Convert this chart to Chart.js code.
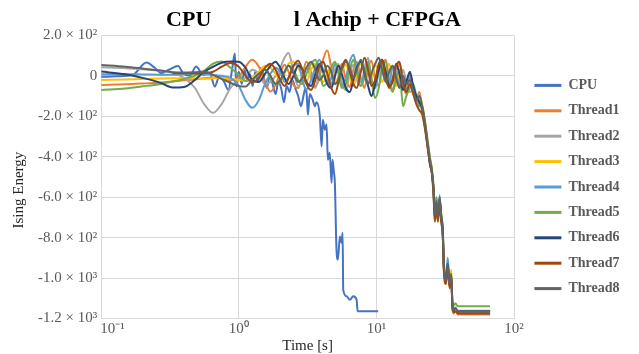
<!DOCTYPE html>
<html>
<head>
<meta charset="utf-8">
<script src="https://cdn.jsdelivr.net/npm/chart.js@4.4.1/dist/chart.umd.min.js"></script>
<style>
  html, body { margin: 0; padding: 0; background: #fff; }
  #wrap { width: 639px; height: 354px; }
</style>
</head>
<body>
<div id="wrap"><canvas id="chart" width="639" height="354"></canvas></div>
<script>
const SERIES_NAMES = ['CPU', 'Thread1', 'Thread2', 'Thread3', 'Thread4', 'Thread5', 'Thread6', 'Thread7', 'Thread8'];
const SERIES_COLORS = ['#4472C4', '#ED7D31', '#A5A5A5', '#FFC000', '#5B9BD5', '#70AD47', '#264478', '#9E480E', '#636363'];

const xTickValues = [0.1, 1, 10, 100];
const xTickLabels = ['10⁻¹', '10⁰', '10¹', '10²'];
const yTickValues = [200, 0, -200, -400, -600, -800, -1000, -1200];
const yTickLabels = ['2.0 × 10²', '0', '-2.0 × 10²', '-4.0 × 10²', '-6.0 × 10²', '-8.0 × 10²', '-1.0 × 10³', '-1.2 × 10³'];

// CPU run (seconds, energy)
const cpuTime = [0.1, 0.13, 0.17, 0.213, 0.245, 0.274, 0.31, 0.362, 0.394, 0.44, 0.49, 0.55, 0.615, 0.67, 0.72, 0.78, 0.84, 0.9, 0.935, 0.96,
  1.0, 1.05, 1.1, 1.15, 1.2, 1.26, 1.32, 1.38, 1.45, 1.52, 1.6, 1.68, 1.76, 1.85, 1.94, 2.03, 2.13, 2.23, 2.34, 2.45,
  2.57, 2.7, 2.83, 2.97, 3.05, 3.11, 3.18, 3.28, 3.45, 3.57, 3.67, 3.88, 4.0, 4.08, 4.22, 4.34, 4.44, 4.58, 4.72, 4.8,
  4.9, 4.99, 5.13, 5.25, 5.43, 5.58, 5.68, 5.74, 6.07, 6.42, 6.78, 7.18, 7.3, 10.3];
const cpuEnergy = [-5, -2, 5, 66, 40, 13, 30, 49, 13, 0, 46, 5, 13, -53, -3, -28, -69, 46, 110, -53,
  20, -40, 30, -20, 10, -50, 20, -30, 40, -10, -60, 0, -40, -90, -30, -60, -130, -50, -80, -20,
  -60, -100, -150, -90, -60, -86, -193, -90, -120, -150, -130, -200, -349, -217, -267, -240, -415, -380, -529, -415,
  -470, -529, -860, -909, -794, -825, -776, -1057, -1090, -1107, -1090, -1107, -1164, -1164];

// FPGA threads share one time base
const threadTime = [0.1, 0.15, 0.2, 0.27, 0.33, 0.4, 0.48, 0.56, 0.65, 0.75, 0.87, 1.0,
  1.12, 1.25, 1.4, 1.55, 1.7, 1.85, 2.0, 2.15, 2.3, 2.5, 2.7, 2.9, 3.1, 3.35, 3.6, 3.85, 4.1, 4.4, 4.7, 5.0,
  5.3, 5.6, 6.0, 6.4, 6.8, 7.2, 7.7, 8.2, 8.7, 9.2, 9.8, 10.4, 11, 11.7, 12.4, 13.1, 13.9, 14.7, 15.6, 16.5,
  17.5, 18.5, 19.5, 20.5, 21.5, 22.5, 23.5, 24.5, 25.3, 26, 26.6, 27.3, 28, 28.8, 29.6, 30.3, 31, 32,
  33, 34, 35, 35.7, 36.5, 37.5, 39, 42, 48, 55, 67];

const thread1 = [-45, -42, -38, -33, -28, -22, -18, -12, -8, -12, -22, -5,
  45, 80, 45, -30, -78, -45, 15, 55, 20, -45, -60, 5, 70, 20, -50, -10, 80, 125, 40, -40,
  -5, 60, -20, -55, 30, 70, -10, -60, 40, 75, -20, -50, 45, 80, -30, -70, 20, 60, -40, -90,
  10, -60, -120, -80, -150, -230, -330, -420, -470, -560, -690, -620, -720, -600, -700, -760, -950, -1020,
  -930, -1040, -980, -1140, -1175, -1150, -1180, -1180, -1180, -1180, -1180];
const thread2 = [42, 38, 32, 25, 15, -10, -60, -140, -183, -140, -60, -20,
  -10, 30, 10, -40, -30, 0, 40, 90, 113, 20, -50, -20, 40, -10, -60, 20, 70, 10, -40, 30,
  60, -30, -70, 10, 55, -20, -50, 40, 90, -10, -60, 30, 70, -20, -50, 40, 20, -40, 30, -30,
  -80, -70, -130, -90, -170, -250, -340, -430, -480, -590, -720, -650, -700, -640, -730, -780, -970, -1000,
  -950, -1020, -990, -1150, -1160, -1155, -1168, -1168, -1168, -1168, -1168];
const thread3 = [-20, -18, -15, -13, -12, -12, -13, -14, -12, -10, -15, -20,
  -25, -10, 20, 50, 40, 10, -20, 10, 60, 70, 40, 0, -30, 30, 60, 20, -30, 10, 50, -10,
  -40, 20, 55, 0, -50, 10, 60, 20, -40, -10, 50, 30, -30, 20, 60, -20, -50, 10, -20, -60,
  -30, -90, -110, -120, -140, -220, -310, -400, -460, -550, -680, -610, -690, -610, -690, -750, -960, -1000,
  -920, -1030, -960, -1150, -1175, -1160, -1172, -1172, -1172, -1172, -1172];
const thread4 = [8, 8, 7, 6, 6, 8, 10, 8, 5, 0, -10, -50,
  -120, -158, -120, -40, 10, 40, 20, -30, -10, 50, 60, -20, -70, -20, 40, 80, 30, -40, -10, 60,
  20, -50, -10, 70, 104, 40, -30, 10, 70, -20, -60, 20, 60, -10, -40, 50, 10, -50, -20, -70,
  -10, -60, -110, -140, -170, -240, -320, -410, -470, -570, -700, -600, -710, -590, -710, -740, -940, -990,
  -900, -1020, -990, -1130, -1150, -1145, -1162, -1162, -1162, -1162, -1162];
const thread5 = [-70, -62, -52, -40, -28, -15, 0, 25, 60, 71, 40, 5,
  -25, -20, 10, 30, -10, -40, -30, 20, 50, 30, -20, -40, 10, 60, 80, 20, -50, -30, 40, 70,
  10, -60, -40, 30, 80, 20, -50, -10, 60, -20, -110, -60, 40, 70, -30, -80, -20, 30, -150, -100,
  -60, -40, -100, -150, -150, -220, -320, -410, -460, -540, -670, -600, -690, -620, -680, -750, -950, -1000,
  -940, -1030, -980, -1120, -1135, -1125, -1140, -1140, -1140, -1140, -1140];
const thread6 = [21, 8, -10, -35, -58, -55, -20, 20, 45, 65, 71, 70,
  40, -20, -30, 10, 50, 70, 40, -10, -40, 0, 50, 30, -30, -50, 10, 60, 20, -40, -60, 0,
  50, 10, -60, -80, -20, 40, 70, 10, -50, -100, -40, 30, 80, 20, -50, -30, 60, 10, -70, -30,
  20, -50, -100, -130, -160, -240, -340, -440, -480, -560, -700, -630, -710, -610, -700, -770, -960, -1010,
  -930, -1040, -990, -1140, -1160, -1150, -1165, -1165, -1165, -1165, -1165];
const thread7 = [null, null, null, null, 13, 13, 12, 14, 20, 45, 63, 45,
  0, -30, -10, 40, 60, 30, -20, -50, -10, 50, 75, 30, -40, -70, -20, 50, 70, 10, -60, -90,
  -30, 40, 80, 20, -40, -60, 20, 90, 30, -50, -20, 60, 80, -10, -60, -20, 50, 70, -30, -80,
  -40, -90, -140, -170, -190, -260, -350, -430, -480, -580, -720, -640, -720, -620, -720, -770, -980, -1030,
  -950, -1050, -1000, -1150, -1170, -1165, -1175, -1175, -1175, -1175, -1175];
const thread8 = [54, 45, 36, 26, 18, 16, 18, 21, 5, -15, -35, -50,
  -53, -20, 10, 30, 0, -40, -20, 20, 50, 10, -30, -10, 40, 70, 30, -20, 0, 50, 20, -40,
  -20, 30, 70, 40, -10, 30, 80, 20, -40, 10, 60, 90, 30, -30, 20, 50, -10, -60, 0, -40,
  -20, -70, -120, -100, -150, -230, -330, -420, -470, -560, -690, -620, -700, -600, -700, -760, -960, -1010,
  -930, -1030, -980, -1140, -1160, -1150, -1165, -1165, -1165, -1165, -1165];

const FONT = "'Times New Roman', 'Liberation Serif', serif";

function toPoints(times, values) {
  return times.map((t, i) => ({ x: t, y: values[i] }));
}

const seriesPoints = [
  toPoints(cpuTime, cpuEnergy),
  toPoints(threadTime, thread1),
  toPoints(threadTime, thread2),
  toPoints(threadTime, thread3),
  toPoints(threadTime, thread4),
  toPoints(threadTime, thread5),
  toPoints(threadTime, thread6),
  toPoints(threadTime, thread7),
  toPoints(threadTime, thread8),
];

const datasets = SERIES_NAMES.map((name, i) => ({
  label: name,
  data: seriesPoints[i],
  borderColor: SERIES_COLORS[i],
  backgroundColor: SERIES_COLORS[i],
  borderWidth: 2,
  pointRadius: 0,
  cubicInterpolationMode: 'monotone',
  order: SERIES_NAMES.length - 1 - i, // later series drawn on top, as in the original
}));

// legend takes a fixed strip on the right, items pushed a little off the plot
const LEGEND_WIDTH = 125;
const LEGEND_SHIFT = 9;
const legendGap = {
  id: 'legendGap',
  beforeLayout(chart) {
    const lg = chart.legend;
    if (lg && !lg._gapPatched) {
      const fit = lg.fit;
      lg.fit = function () { fit.call(this); this.width = LEGEND_WIDTH; };
      lg._gapPatched = true;
    }
  },
  afterLayout(chart) {
    if (chart.legend) chart.legend.left += LEGEND_SHIFT;
  },
};

new Chart(document.getElementById('chart'), {
  type: 'line',
  data: { datasets },
  options: {
    responsive: false,
    animation: false,
    layout: { padding: { left: 10, right: 0, top: 0, bottom: 0 } },
    plugins: {
      title: {
        display: true,
        // trailing blanks nudge the line a bit left of centre, like the source
        text: 'CPU               l Achip + CFPGA    ',
        color: '#000',
        font: { family: FONT, size: 22, weight: 'bold' },
        padding: { top: 7, bottom: 2 },
      },
      legend: {
        position: 'right',
        title: { display: true, text: '', padding: 0, font: { size: 20, lineHeight: 1 } },
        labels: {
          color: '#595959',
          font: { family: FONT, size: 14, weight: 'bold' },
          boxWidth: 27,
          boxHeight: 3,
          padding: 11.4,
          sort: (a, b) => a.datasetIndex - b.datasetIndex,
          generateLabels: chart => Chart.defaults.plugins.legend.labels.generateLabels(chart)
            .map(l => ({ ...l, lineWidth: 0 })),
        },
      },
      tooltip: { enabled: false },
    },
    scales: {
      x: {
        type: 'logarithmic',
        min: 0.1,
        max: 100,
        grid: { color: '#D9D9D9', drawTicks: false },
        border: { color: '#D9D9D9' },
        ticks: {
          color: '#595959',
          font: { family: FONT, size: 15, lineHeight: 1.1 },
          padding: 2,
          maxRotation: 0,
          autoSkip: false,
          callback: v => {
            const i = xTickValues.findIndex(t => Math.abs(Math.log10(v) - Math.log10(t)) < 1e-6);
            if (i < 0) return null;
            // first label sits inside the plot edge, as in the source
            return i === 0 ? '      ' + xTickLabels[i] : xTickLabels[i];
          },
        },
        title: {
          display: true,
          text: 'Time [s]',
          color: '#262626',
          font: { family: FONT, size: 15, lineHeight: 1 },
          padding: { top: 0, bottom: 0 },
        },
      },
      y: {
        min: -1200,
        max: 200,
        grid: { color: '#D9D9D9', drawTicks: false },
        border: { color: '#D9D9D9' },
        ticks: {
          stepSize: 200,
          color: '#595959',
          font: { family: FONT, size: 15 },
          padding: 4,
          callback: v => {
            const i = yTickValues.indexOf(v);
            return i >= 0 ? yTickLabels[i] : null;
          },
        },
        title: {
          display: true,
          text: 'Ising Energy       ',
          color: '#262626',
          font: { family: FONT, size: 15 },
          padding: { top: 0, bottom: 6 },
        },
      },
    },
  },
  plugins: [legendGap],
});
</script>
</body>
</html>
